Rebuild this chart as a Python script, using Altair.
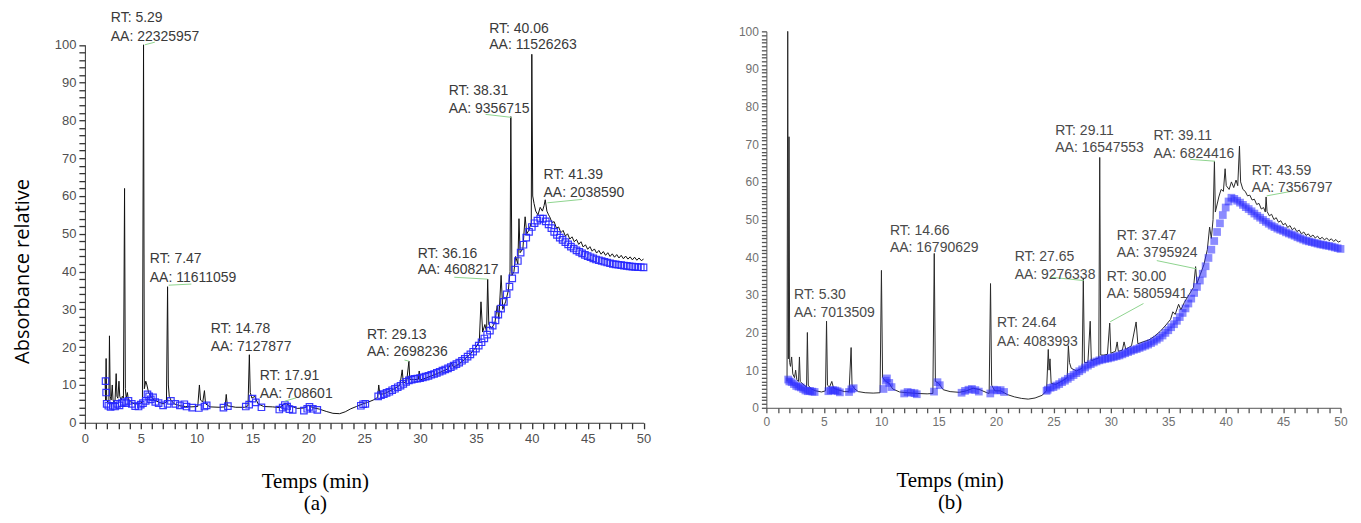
import altair as alt
import pandas as pd

# ---------------- Panel (a) ----------------
a_signal_early = [
    (1.80, 12), (1.85, 6), (1.90, 17), (1.95, 6), (2.05, 5.5), (2.15, 6), (2.20, 23), (2.27, 7),
    (2.35, 6), (2.45, 10), (2.52, 6), (2.60, 5.5), (2.70, 6), (2.80, 13), (2.87, 7), (2.95, 6.5),
    (3.05, 11), (3.12, 7), (3.25, 6), (3.35, 7), (3.45, 6.5), (3.55, 62), (3.62, 9), (3.70, 6.5),
    (3.80, 8), (3.90, 6), (4.10, 5.5), (4.40, 5), (4.70, 5), (5.00, 5.2), (5.15, 5.5), (5.25, 100),
    (5.32, 9), (5.45, 11), (5.55, 10), (5.70, 8), (5.90, 7), (6.20, 6), (6.60, 5.5), (7.00, 5),
    (7.30, 5.5), (7.40, 36), (7.47, 10), (7.55, 7), (7.70, 6), (8.00, 5), (8.50, 4.5), (9.00, 4.3),
    (9.50, 4.2), (10.10, 4.3), (10.25, 10), (10.35, 6), (10.55, 5.5), (10.70, 8.5), (10.80, 5),
    (11.20, 4.2), (12.00, 4.1), (12.55, 4.2), (12.65, 7.5), (12.75, 4.5), (13.50, 4.1), (14.30, 4.1),
    (14.60, 4.5), (14.72, 18), (14.80, 8), (14.95, 6.5), (15.20, 7), (15.50, 5), (16.00, 4.3),
    (16.80, 4.2), (17.50, 4.0), (17.90, 5.2), (18.40, 4.5), (19.00, 3.8), (19.60, 3.9), (20.00, 4.6),
    (20.40, 4.0), (21.00, 3.6), (21.60, 3.0), (22.20, 2.5), (22.80, 2.4), (23.30, 2.9), (23.80, 3.7),
    (24.30, 4.3), (24.80, 4.9),
]
a_signal_rise = [
    (25.30, 5.4), (25.80, 6.0), (26.20, 6.7), (26.30, 10), (26.40, 7.5), (26.80, 7.7), (27.30, 8.4),
    (27.80, 9.2), (28.20, 10), (28.40, 14), (28.50, 10.5), (28.80, 11), (29.00, 16.3), (29.08, 11.5),
    (29.40, 11.4), (29.85, 11.5), (29.92, 13.7), (30.00, 11.3), (30.50, 11.8), (31.00, 12.4),
    (31.50, 13.0), (32.00, 13.6), (32.50, 14.3), (32.80, 15.8), (33.00, 14.7), (33.50, 15.6),
    (34.00, 16.8), (34.50, 18.2), (35.00, 20.0), (35.30, 21.5), (35.45, 32), (35.60, 24), (35.80, 26),
    (35.95, 24), (36.05, 38), (36.15, 26), (36.40, 25), (36.70, 26.5), (36.90, 31), (37.05, 27.5),
    (37.25, 39), (37.40, 30), (37.65, 32), (37.90, 35), (38.05, 40), (38.12, 81), (38.22, 39),
    (38.40, 40), (38.55, 44), (38.75, 42), (38.85, 54), (38.95, 45), (39.20, 46), (39.40, 54.5),
    (39.55, 50), (39.75, 51), (39.95, 53), (40.00, 97.5), (40.08, 60), (40.20, 58), (40.35, 56),
    (40.55, 55), (40.75, 57), (40.95, 56), (41.10, 57.5), (41.20, 59), (41.35, 56), (41.50, 55),
]
a_signal_tail = [
    (41.6, 54.5), (41.8, 53.0), (42.0, 53.2), (42.2, 51.5), (42.4, 51.8), (42.6, 50.3), (42.8, 50.9),
    (43.0, 49.4), (43.2, 50.0), (43.4, 48.6), (43.6, 49.2), (43.8, 47.9), (44.0, 48.5), (44.2, 47.2),
    (44.4, 47.9), (44.6, 46.5), (44.8, 47.1), (45.0, 45.9), (45.2, 46.6), (45.4, 45.4), (45.6, 46.0),
    (45.8, 44.9), (46.0, 45.6), (46.2, 44.6), (46.4, 45.3), (46.6, 44.3), (46.8, 45.0), (47.0, 44.0),
    (47.2, 44.7), (47.4, 43.8), (47.6, 44.5), (47.8, 43.6), (48.0, 44.3), (48.2, 43.4), (48.4, 44.1),
    (48.6, 43.3), (48.8, 43.9), (49.0, 43.1), (49.2, 43.8), (49.4, 43.0), (49.6, 43.6), (49.8, 42.9),
    (50.0, 43.3),
]
a_base_early = [
    (1.85, 11), (1.9, 8), (1.95, 5), (2.1, 4.5), (2.3, 4.2), (2.5, 4.5), (2.7, 4.3), (2.9, 5),
    (3.1, 4.6), (3.3, 5.2), (3.5, 5.5), (3.7, 5.2), (3.9, 5.8), (4.2, 5), (4.5, 4.4), (4.8, 4.3),
    (5.0, 4.8), (5.2, 5.2), (5.45, 5.8), (5.6, 7.5), (5.75, 7), (5.9, 6.2), (6.1, 6.7), (6.3, 5.5),
    (6.6, 5.2), (7.0, 4.6), (7.4, 5.0), (7.7, 5.8), (8.1, 5.0), (8.5, 4.6), (8.9, 4.9), (9.1, 4.3),
    (9.6, 4.0), (10.2, 3.9), (10.7, 4.3), (10.9, 4.6), (12.4, 4.0), (12.8, 4.4), (14.4, 4.3),
    (14.7, 4.8), (15.0, 6.4), (15.3, 5.4), (15.8, 4.1), (17.4, 3.5), (17.7, 4.0), (17.9, 4.7),
    (18.1, 4.3), (18.3, 3.6), (18.6, 3.4), (19.6, 3.2), (19.9, 3.7), (20.1, 4.2), (20.4, 3.7),
    (20.8, 3.4), (24.7, 4.5), (24.9, 4.9), (25.1, 5.0),
]
a_base_rise = [
    (26.25, 7.0), (26.5, 7.3), (26.75, 7.6), (27.0, 7.9), (27.25, 8.2), (27.5, 8.6), (27.75, 9.0),
    (28.0, 9.4), (28.25, 9.8), (28.5, 10.3), (28.75, 10.8), (29.0, 11.2), (29.25, 11.4), (29.5, 11.6),
    (29.75, 11.7), (30.0, 11.8), (30.25, 12.0), (30.5, 12.2), (30.75, 12.4), (31.0, 12.7),
    (31.25, 12.9), (31.5, 13.2), (31.75, 13.5), (32.0, 13.8), (32.25, 14.1), (32.5, 14.4),
    (32.75, 14.7), (33.0, 15.1), (33.25, 15.5), (33.5, 15.9), (33.75, 16.4), (34.0, 16.9),
    (34.25, 17.5), (34.5, 18.1), (34.75, 18.8), (35.0, 19.6), (35.25, 20.4), (35.5, 21.3),
    (35.75, 22.3), (36.0, 23.3), (36.25, 24.4), (36.5, 25.7), (36.75, 27.1), (37.0, 28.6),
    (37.25, 30.2), (37.5, 32.0), (37.75, 34.0), (38.0, 36.0), (38.25, 38.2), (38.5, 40.5),
    (38.75, 42.8), (39.0, 45.0), (39.25, 47.1), (39.5, 49.0), (39.75, 50.5), (40.0, 51.8),
    (40.25, 52.8), (40.5, 53.5), (40.75, 54.0), (41.0, 54.0), (41.25, 53.3), (41.5, 52.5),
    (41.75, 51.5), (42.0, 50.5), (42.25, 49.7), (42.5, 49.0), (42.75, 48.4), (43.0, 47.8),
    (43.25, 47.2), (43.5, 46.6), (43.75, 46.1), (44.0, 45.6), (44.25, 45.2), (44.5, 44.8),
    (44.75, 44.4), (45.0, 44.1), (45.25, 43.8), (45.5, 43.5), (45.75, 43.2), (46.0, 43.0),
    (46.25, 42.8), (46.5, 42.6), (46.75, 42.4), (47.0, 42.2), (47.25, 42.0), (47.5, 41.9),
    (47.75, 41.8), (48.0, 41.7), (48.25, 41.6), (48.5, 41.5), (48.75, 41.4), (49.0, 41.3),
    (49.25, 41.25), (49.5, 41.2), (49.75, 41.15), (50.0, 41.1),
]
a_rt = ["RT: 5.29", "RT: 7.47", "RT: 14.78", "RT: 17.91", "RT: 29.13", "RT: 36.16", "RT: 38.31",
        "RT: 40.06", "RT: 41.39"]
a_aa = ["AA: 22325957", "AA: 11611059", "AA: 7127877", "AA: 708601", "AA: 2698236", "AA: 4608217",
        "AA: 9356715", "AA: 11526263", "AA: 2038590"]
a_lab_t = [2.32, 5.81, 11.26, 15.64, 25.25, 29.79, 32.56, 36.19, 41.05]
a_lab_v1 = [107.1, 43.3, 24.8, 12.3, 23.1, 44.7, 87.9, 104.3, 65.5]
a_lab_v2 = [102.2, 38.3, 20.0, 7.7, 18.7, 40.3, 83.1, 100.0, 60.8]
a_leaders = [(5.36, 100.0, 6.26, 100.7), (7.50, 36.4, 9.53, 36.7), (17.87, 5.7, 18.91, 6.6),
             (28.6, 16.6, 29.0, 16.3), (33.06, 38.5, 36.04, 38.0), (35.86, 81.6, 38.19, 80.8),
             (41.4, 58.2, 44.5, 59.1)]

# ---------------- Panel (b) ----------------
b_signal_early = [
    (1.80, 7), (1.86, 100), (1.92, 13), (1.97, 72), (2.03, 12), (2.10, 11), (2.20, 13.5), (2.30, 9),
    (2.45, 8), (2.55, 10), (2.65, 7.5), (2.80, 7), (2.88, 13.5), (2.95, 7), (3.10, 6.5), (3.30, 6),
    (3.50, 5.5), (3.57, 20), (3.65, 6), (3.90, 5), (4.30, 4.5), (4.80, 4.2), (5.15, 4.5), (5.24, 23),
    (5.32, 6), (5.50, 5.5), (5.70, 7), (5.85, 5.2), (6.20, 4.8), (6.80, 4.3), (7.20, 4.3), (7.38, 16),
    (7.46, 6), (7.70, 5), (8.00, 4.3), (8.60, 4.0), (9.30, 3.9), (9.90, 4.0), (10.02, 36.5),
    (10.12, 8), (10.40, 7), (10.70, 6.5), (11.00, 5), (11.60, 4.2), (12.30, 4.0), (13.20, 3.8),
    (14.00, 3.7), (14.50, 3.8), (14.62, 41), (14.72, 7), (15.00, 6.5), (15.40, 4.8), (16.00, 4.3),
    (16.80, 4.1), (17.40, 4.5), (18.00, 5.2), (18.60, 4.8), (19.20, 4.0), (19.40, 3.8), (19.52, 33),
    (19.62, 6), (19.90, 4.5), (20.40, 4.5), (21.00, 3.5), (21.60, 2.9), (22.20, 2.5), (22.80, 2.3),
    (23.40, 2.6), (24.00, 3.3), (24.40, 4.5),
]
b_signal_rise = [
    (24.55, 15.5), (24.62, 10), (24.70, 13), (24.80, 6.5), (25.20, 6.2), (25.80, 7.2), (26.20, 8.0),
    (26.30, 16.5), (26.40, 12), (26.55, 10.5), (27.00, 9.8), (27.50, 10.5), (27.60, 34.5),
    (27.70, 12), (28.00, 12), (28.20, 23), (28.30, 12.5), (28.70, 13), (28.95, 13.2), (29.03, 66.5),
    (29.12, 14), (29.40, 14), (29.70, 14.2), (29.90, 22.5), (30.00, 14.5), (30.40, 15), (30.55, 17.5),
    (30.65, 15), (31.00, 15.3), (31.15, 17.5), (31.30, 15.5), (31.80, 16.5), (32.20, 22.8),
    (32.35, 17), (32.80, 17.5), (33.30, 18), (33.80, 19), (34.30, 20.3), (34.80, 22), (35.20, 23.5),
    (35.40, 25.5), (35.60, 24.8), (35.90, 27.5), (36.10, 26), (36.40, 28), (36.80, 30), (37.20, 32),
    (37.38, 37.5), (37.50, 33), (37.80, 35.5), (38.10, 38), (38.40, 42), (38.60, 48), (38.75, 45),
    (38.90, 50), (39.02, 65.5), (39.10, 52), (39.40, 56), (39.60, 58), (39.80, 57.5), (39.95, 63.5),
    (40.05, 59), (40.30, 58), (40.50, 60), (40.70, 58.5), (40.90, 60.5), (41.05, 59), (41.20, 69.5),
    (41.30, 60),
]
b_signal_tail = [
    (41.5, 58.0), (41.7, 57.5), (41.9, 56.3), (42.1, 56.5), (42.3, 55.2), (42.5, 55.4), (42.7, 54.0),
    (42.9, 54.3), (43.1, 52.8), (43.3, 53.2), (43.45, 52.0), (43.52, 56.0), (43.6, 52.2), (43.8, 51.0),
    (44.0, 51.4), (44.2, 50.0), (44.4, 50.5), (44.6, 49.3), (44.8, 49.7), (45.0, 48.6), (45.2, 49.0),
    (45.4, 47.9), (45.6, 48.4), (45.8, 47.3), (46.0, 47.8), (46.2, 46.8), (46.4, 47.2), (46.6, 46.2),
    (46.8, 46.7), (47.0, 45.8), (47.2, 46.2), (47.4, 45.4), (47.6, 45.9), (47.8, 45.1), (48.0, 45.6),
    (48.2, 44.8), (48.4, 45.3), (48.6, 44.6), (48.8, 45.1), (49.0, 44.4), (49.2, 44.9), (49.4, 44.2),
    (49.6, 44.7), (49.8, 44.0), (50.0, 44.3),
]
b_base_early = [
    (1.9, 7.5), (2.0, 7), (2.2, 6.8), (2.4, 6.3), (2.6, 5.8), (2.8, 5.6), (3.0, 5.4), (3.2, 5.0),
    (3.4, 4.6), (3.6, 4.4), (3.8, 4.5), (4.0, 4.3), (4.2, 4.2), (5.4, 4.4), (5.6, 4.6), (5.8, 4.7),
    (6.0, 4.6), (6.2, 4.4), (6.4, 4.1), (7.2, 4.2), (7.4, 4.9), (7.6, 5.2), (10.2, 5.0), (10.4, 7.2),
    (10.5, 7.8), (10.7, 6.6), (10.9, 5.5), (12.0, 3.8), (12.3, 4.2), (12.6, 4.0), (12.9, 3.9),
    (13.1, 3.6), (14.6, 4.3), (14.9, 6.8), (15.1, 6.0), (17.0, 4.0), (17.3, 4.5), (17.6, 4.8),
    (17.9, 5.0), (18.2, 4.7), (18.5, 4.3), (19.5, 3.8), (19.8, 4.8), (20.1, 4.6), (20.4, 4.7),
    (20.7, 4.2), (24.4, 4.5),
]
b_base_rise = [
    (24.5, 4.8), (24.75, 5.3), (25.0, 5.5), (25.25, 5.9), (25.5, 6.3), (25.75, 6.8), (26.0, 7.2),
    (26.25, 7.7), (26.5, 8.2), (26.75, 8.7), (27.0, 9.2), (27.25, 9.7), (27.5, 10.2), (27.75, 10.7),
    (28.0, 11.2), (28.25, 11.6), (28.5, 12.0), (28.75, 12.3), (29.0, 12.6), (29.25, 12.8),
    (29.5, 13.0), (29.75, 13.1), (30.0, 13.3), (30.25, 13.5), (30.5, 13.7), (30.75, 13.9),
    (31.0, 14.2), (31.25, 14.5), (31.5, 14.8), (31.75, 15.1), (32.0, 15.4), (32.25, 15.6),
    (32.5, 15.9), (32.75, 16.2), (33.0, 16.5), (33.25, 16.8), (33.5, 17.2), (33.75, 17.6),
    (34.0, 18.1), (34.25, 18.6), (34.5, 19.2), (34.75, 19.9), (35.0, 20.6), (35.25, 21.4),
    (35.5, 22.2), (35.75, 23.1), (36.0, 24.1), (36.25, 25.2), (36.5, 26.4), (36.75, 27.7),
    (37.0, 29.0), (37.25, 30.5), (37.5, 32.1), (37.75, 33.8), (38.0, 35.6), (38.25, 37.6),
    (38.5, 39.8), (38.75, 42.0), (39.0, 44.3), (39.25, 46.7), (39.5, 49.0), (39.75, 51.2),
    (40.0, 53.2), (40.25, 54.8), (40.5, 55.8), (40.75, 55.5), (41.0, 55.0), (41.25, 54.5),
    (41.5, 53.9), (41.75, 53.3), (42.0, 52.8), (42.25, 52.2), (42.5, 51.6), (42.75, 51.0),
    (43.0, 50.5), (43.25, 49.9), (43.5, 49.4), (43.75, 48.9), (44.0, 48.4), (44.25, 48.0),
    (44.5, 47.6), (44.75, 47.3), (45.0, 47.0), (45.25, 46.6), (45.5, 46.3), (45.75, 46.0),
    (46.0, 45.7), (46.25, 45.3), (46.5, 45.0), (46.75, 44.7), (47.0, 44.4), (47.25, 44.2),
    (47.5, 44.0), (47.75, 43.8), (48.0, 43.6), (48.25, 43.4), (48.5, 43.3), (48.75, 43.1),
    (49.0, 43.0), (49.25, 42.8), (49.5, 42.6), (49.75, 42.4), (50.0, 42.2),
]
b_rt = ["RT: 5.30", "RT: 14.66", "RT: 24.64", "RT: 27.65", "RT: 29.11", "RT: 30.00", "RT: 37.47",
        "RT: 39.11", "RT: 43.59"]
b_aa = ["AA: 7013509", "AA: 16790629", "AA: 4083993", "AA: 9276338", "AA: 16547553", "AA: 5805941",
        "AA: 3795924", "AA: 6824416", "AA: 7356797"]
b_lab_t = [2.41, 10.76, 20.09, 21.62, 25.16, 29.65, 30.52, 33.71, 42.26]
b_lab_v1 = [29.9, 47.0, 22.4, 40.0, 73.4, 34.7, 45.7, 72.1, 62.9]
b_lab_v2 = [25.2, 42.5, 17.6, 35.4, 69.0, 30.2, 41.2, 67.4, 58.3]
b_leaders = [(24.72, 34.7, 27.63, 33.8), (32.84, 27.7, 29.94, 22.85), (34.0, 39.1, 37.48, 36.9),
             (36.9, 66.0, 39.07, 65.5), (43.57, 56.3, 45.9, 57.6)]

# axis ticks: every minute on x, every 2 (a) / 1 (b) units on y; labels only at major ticks
x_ticks = list(range(0, 51))
a_y_ticks = list(range(0, 101, 2))
b_y_ticks = list(range(0, 101))


def build_panel(sig, base, rt, aa, lt, lv1, lv2, leaders, yticks, W, H, yrange, xtitle,
                title_x, title_y, ytitle, lab_size, lab_color, tick_color, text_color,
                line_color, base_filled, tick_len):
    xs = alt.Scale(domain=[0, 50], nice=False, zero=False)
    ys = alt.Scale(domain=[0, 100], nice=False, zero=False, range=yrange)
    xaxis = alt.Axis(values=x_ticks, tickSize=tick_len, tickColor=tick_color, tickWidth=1.3,
                     labelExpr="datum.value % 5 === 0 ? datum.label : ''",
                     domainColor=tick_color, labelFont="Liberation Sans", labelFontSize=lab_size,
                     labelColor=lab_color, labelPadding=4, labelFlush=False, labelOverlap=False,
                     grid=False, title=xtitle, titleFont="Liberation Serif", titleFontSize=21,
                     titleFontWeight="normal", titleColor="#000000", titleX=title_x,
                     titleY=title_y, titleAlign="center", titleBaseline="top",
                     titleLineHeight=22)
    yargs = dict(values=yticks, tickSize=tick_len, tickColor=tick_color, tickWidth=1.3,
                 domainColor=tick_color,
                 labelExpr="datum.value % 10 === 0 ? datum.label : ''",
                 labelFont="Liberation Sans", labelFontSize=lab_size, labelColor=lab_color,
                 labelPadding=3, labelFlush=False, labelOverlap=False, grid=False)
    if ytitle:
        yargs.update(title=ytitle, titleFont="Open Sans", titleFontSize=20,
                     titleFontWeight="normal", titleColor="#000000", titleX=-62, titleY=240,
                     titleAngle=270, titleAlign="center", titleBaseline="middle")
    else:
        yargs.update(title=None)
    yaxis = alt.Axis(**yargs)

    sig_df = pd.DataFrame(sig, columns=["t", "v"])
    base_df = pd.DataFrame(base, columns=["t", "v"])
    lab_df = pd.DataFrame({"t": lt * 2, "v": lv1 + lv2, "txt": rt + aa})
    lead_df = pd.DataFrame(leaders, columns=["t1", "v1", "t2", "v2"])

    X = lambda f: alt.X(f, scale=xs, axis=xaxis)
    Y = lambda f: alt.Y(f, scale=ys, axis=yaxis)

    line = alt.Chart(sig_df).mark_line(color=line_color, strokeWidth=1).encode(
        x=X("t:Q"), y=Y("v:Q"))
    if base_filled:
        pts = alt.Chart(base_df).mark_point(shape="square", filled=True, size=60, color="#2b2bff",
                                            opacity=0.55)
    else:
        pts = alt.Chart(base_df).mark_point(shape="square", filled=False, size=42,
                                            color="#2525ff", strokeWidth=1.2, opacity=0.9)
    pts = pts.encode(x=X("t:Q"), y=Y("v:Q"))
    leads = alt.Chart(lead_df).mark_rule(color="#8fd48f", strokeWidth=1).encode(
        x=X("t1:Q"), y=Y("v1:Q"), x2="t2:Q", y2="v2:Q")
    texts = alt.Chart(lab_df).mark_text(align="left", baseline="middle", font="Liberation Sans",
                                        fontSize=14, color=text_color).encode(
        x=X("t:Q"), y=Y("v:Q"), text="txt:N")
    return alt.layer(line, pts, leads, texts).properties(width=W, height=H)


panel_a = build_panel(a_signal_early + a_signal_rise + a_signal_tail, a_base_early + a_base_rise,
                      a_rt, a_aa, a_lab_t, a_lab_v1, a_lab_v2, a_leaders, a_y_ticks,
                      559.5, 392, [392, 13.5], ["Temps (min)", "(a)"], 230.3, 48,
                      "Absorbance relative", 13, "#505050", "#333333", "#3a3a3a", "#111111", False,
                      6)
panel_b = build_panel(b_signal_early + b_signal_rise + b_signal_tail, b_base_early + b_base_rise,
                      b_rt, b_aa, b_lab_t, b_lab_v1, b_lab_v2, b_leaders, b_y_ticks,
                      575, 377, [377, 0], ["Temps (min)", "(b)"], 183.5, 62,
                      None, 12, "#707070", "#555555", "#4a4a4a", "#2a2a2a", True,
                      5)

chart = alt.hconcat(panel_a, panel_b, spacing=122.5, bounds="flush").properties(
    padding={"left": 5, "top": 2, "right": 5, "bottom": 5}
).configure_view(stroke=None)

chart.save("out.html", embed_options={"renderer": "svg", "actions": False})
